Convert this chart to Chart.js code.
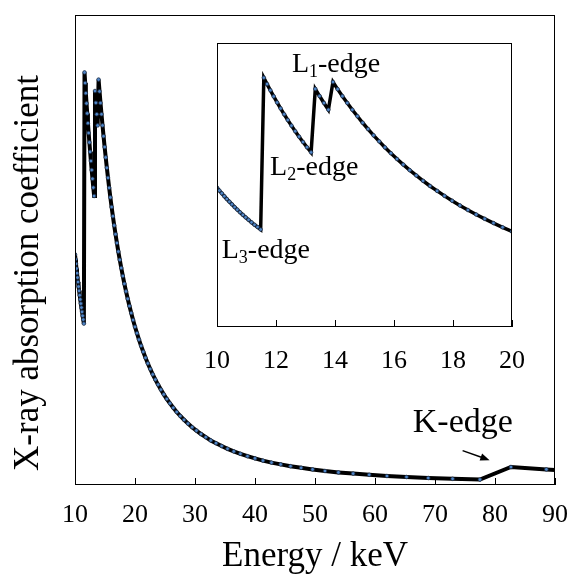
<!DOCTYPE html>
<html>
<head>
<meta charset="utf-8">
<script src="https://cdn.jsdelivr.net/npm/chart.js@4.4.1/dist/chart.umd.min.js"></script>
<style>
  html, body { margin: 0; padding: 0; background: #fff; }
  #wrap { position: relative; width: 569px; height: 574px; }
  #wrap canvas { position: absolute; left: 0; top: 0; }
</style>
</head>
<body>
<div id="wrap">
  <canvas id="main" width="569" height="574"></canvas>
  <canvas id="inset" width="569" height="574"></canvas>
</div>
<script>
// Pt X-ray absorption spectrum (arbitrary units), sampled on a 0.01 Å wavelength grid
const energyKeV = [
  9.999, 10.080, 10.163, 10.247, 10.332, 10.419, 10.507, 10.597, 10.688, 10.781,
  10.876, 10.972, 11.070, 11.170, 11.271, 11.375, 11.480,
  11.587, 11.697, 11.808, 11.922, 12.037, 12.155, 12.276, 12.398, 12.524, 12.651,
  12.782, 12.915, 13.051, 13.190,
  13.332, 13.477, 13.625, 13.776,
  13.931, 14.089, 14.251, 14.417, 14.586, 14.760, 14.938, 15.120, 15.307, 15.498,
  15.694, 15.895, 16.102, 16.314, 16.531, 16.755, 16.984, 17.220, 17.463, 17.712,
  17.969, 18.233, 18.505, 18.786, 19.075, 19.373, 19.680, 19.997, 20.325, 20.664,
  21.014, 21.377, 21.752, 22.140, 22.543, 22.960, 23.393, 23.843, 24.311, 24.797,
  25.303, 25.830, 26.380, 26.953, 27.552, 28.178, 28.834, 29.520, 30.240, 30.996,
  31.791, 32.627, 33.509, 34.440, 35.424, 36.466, 37.571, 38.745, 39.995, 41.328,
  42.753, 44.280, 45.920, 47.686, 49.594, 51.660, 53.906, 56.356, 59.040, 61.992,
  65.255, 68.880, 72.932, 77.490,
  82.656, 88.560, 95.372
];
const absorption = [
  115.3, 112.9, 110.6, 108.2, 105.9, 103.7, 101.5, 99.2, 97.1, 94.9,
  92.8, 90.7, 88.7, 86.6, 84.6, 82.7, 80.7,
  206.3, 201.0, 195.9, 190.8, 185.8, 180.9, 176.0, 171.3, 166.6, 162.0,
  157.5, 153.1, 148.7, 144.5,
  197.0, 191.1, 185.4, 179.8,
  202.7, 196.8, 191.0, 185.4, 179.8, 174.4, 169.0, 163.8, 158.6, 153.6,
  148.6, 143.8, 139.0, 134.4, 129.8, 125.4, 121.0, 116.7, 112.6, 108.5,
  104.5, 100.6, 96.8, 93.1, 89.5, 86.0, 82.5, 79.1, 75.9, 72.7,
  69.6, 66.6, 63.6, 60.8, 58.0, 55.3, 52.7, 50.2, 47.7, 45.3,
  43.0, 40.8, 38.6, 36.5, 34.5, 32.6, 30.7, 28.9, 27.2, 25.5,
  23.9, 22.3, 20.9, 19.5, 18.1, 16.8, 15.6, 14.4, 13.3, 12.2,
  11.2, 10.3, 9.4, 8.6, 7.8, 7.0, 6.3, 5.7, 5.1, 4.5,
  4.0, 3.5, 3.1, 2.7,
  9.0, 7.8, 6.4
];
const mainTicks = [10, 20, 30, 40, 50, 60, 70, 80, 90];
const insetTicks = [10, 12, 14, 16, 18, 20];

// Edge labels: subscript, anchor energy (keV) and absorption value at the text baseline
const lEdgeLabels = [
  { sub: '3', e: 10.16, mu: 57.5 },
  { sub: '2', e: 11.80, mu: 126.0 },
  { sub: '1', e: 12.54, mu: 211.0 }
];
const kEdgeLabel = { text: 'K-edge', e: 66.3, mu: 26.5 };
const kEdgeArrow = { from: [74.6, 17.2], to: [79.1, 12.4] };

const SERIF = "'Liberation Serif', 'Times New Roman', serif";
const points = energyKeV.map((e, i) => ({ x: e, y: absorption[i] }));

function seriesStyle(width) {
  return {
    data: points,
    borderColor: '#000',
    borderWidth: width,
    pointRadius: 1.8,
    pointBorderWidth: 0.8,
    pointBackgroundColor: '#4f86c8',
    pointBorderColor: '#1d2c44',
    fill: false,
    tension: 0
  };
}

// Box frame plus short inward ticks on the energy axis
const frameTicks = {
  id: 'frameTicks',
  afterDatasetsDraw(chart) {
    const { ctx, chartArea: a, scales: { x } } = chart;
    ctx.save();
    ctx.strokeStyle = '#000';
    ctx.lineWidth = 1;
    ctx.strokeRect(a.left + 0.5, a.top + 0.5, a.right - a.left - 1, a.bottom - a.top - 1);
    ctx.beginPath();
    x.ticks.forEach(t => {
      const px = Math.round(x.getPixelForValue(t.value)) + 0.5;
      ctx.moveTo(px, a.bottom);
      ctx.lineTo(px, a.bottom - 7);
    });
    ctx.stroke();
    ctx.restore();
  }
};

const whiteArea = {
  id: 'whiteArea',
  beforeDraw(chart) {
    const { ctx, chartArea: a } = chart;
    ctx.save();
    ctx.fillStyle = '#fff';
    ctx.fillRect(a.left, a.top, a.right - a.left, a.bottom - a.top);
    ctx.restore();
  }
};

// Rotated y-axis title
const yTitle = {
  id: 'yTitle',
  afterDraw(chart) {
    const { ctx, chartArea: a } = chart;
    ctx.save();
    ctx.translate(29, (a.top + a.bottom) / 2 + 23);
    ctx.rotate(-Math.PI / 2);
    ctx.font = '35px ' + SERIF;
    ctx.fillStyle = '#000';
    ctx.textAlign = 'center';
    ctx.textBaseline = 'middle';
    ctx.fillText('X-ray absorption coefficient', 0, 0);
    ctx.restore();
  }
};

const kEdge = {
  id: 'kEdge',
  afterDatasetsDraw(chart) {
    const { ctx, scales: { x, y } } = chart;
    ctx.save();
    ctx.fillStyle = '#000';
    ctx.strokeStyle = '#000';
    ctx.font = '34px ' + SERIF;
    ctx.textAlign = 'left';
    ctx.textBaseline = 'alphabetic';
    ctx.fillText(kEdgeLabel.text, x.getPixelForValue(kEdgeLabel.e), y.getPixelForValue(kEdgeLabel.mu));
    const x0 = x.getPixelForValue(kEdgeArrow.from[0]), y0 = y.getPixelForValue(kEdgeArrow.from[1]);
    const x1 = x.getPixelForValue(kEdgeArrow.to[0]), y1 = y.getPixelForValue(kEdgeArrow.to[1]);
    const ang = Math.atan2(y1 - y0, x1 - x0);
    const head = 10;
    ctx.lineWidth = 1.5;
    ctx.beginPath();
    ctx.moveTo(x0, y0);
    ctx.lineTo(x1 - Math.cos(ang) * head * 0.8, y1 - Math.sin(ang) * head * 0.8);
    ctx.stroke();
    ctx.beginPath();
    ctx.moveTo(x1, y1);
    ctx.lineTo(x1 - head * Math.cos(ang - 0.38), y1 - head * Math.sin(ang - 0.38));
    ctx.lineTo(x1 - head * Math.cos(ang + 0.38), y1 - head * Math.sin(ang + 0.38));
    ctx.closePath();
    ctx.fill();
    ctx.restore();
  }
};

const lEdges = {
  id: 'lEdges',
  afterDatasetsDraw(chart) {
    const { ctx, scales: { x, y } } = chart;
    const size = 28, subSize = 18;
    ctx.save();
    ctx.fillStyle = '#000';
    ctx.textAlign = 'left';
    ctx.textBaseline = 'alphabetic';
    lEdgeLabels.forEach(l => {
      let px = x.getPixelForValue(l.e);
      const py = y.getPixelForValue(l.mu);
      ctx.font = size + 'px ' + SERIF;
      ctx.fillText('L', px, py);
      px += ctx.measureText('L').width;
      ctx.font = subSize + 'px ' + SERIF;
      ctx.fillText(l.sub, px, py + 5);
      px += ctx.measureText(l.sub).width;
      ctx.font = size + 'px ' + SERIF;
      ctx.fillText('-edge', px, py);
    });
    ctx.restore();
  }
};

function xAxis(min, max, tickList, height, pad, title) {
  const axis = {
    type: 'linear',
    min: min,
    max: max,
    grid: { display: false, drawTicks: false },
    border: { display: false },
    afterBuildTicks(s) { s.ticks = tickList.map(v => ({ value: v })); },
    afterFit(s) {
      s.height = height;
      s.paddingLeft = 0;
      s.paddingRight = 0;
    },
    ticks: {
      color: '#000',
      font: { family: SERIF, size: 26 },
      padding: pad,
      maxRotation: 0,
      autoSkip: false
    }
  };
  if (title) {
    axis.title = {
      display: true,
      text: title,
      color: '#000',
      font: { family: SERIF, size: 35, lineHeight: 1 },
      padding: 0
    };
  }
  return axis;
}

new Chart(document.getElementById('main'), {
  type: 'line',
  data: { datasets: [seriesStyle(4)] },
  options: {
    responsive: false,
    animation: false,
    devicePixelRatio: 1,
    layout: { padding: { left: 75, top: 15, right: 14, bottom: 0 } },
    plugins: { legend: { display: false }, tooltip: { enabled: false } },
    scales: {
      x: xAxis(10, 90, mainTicks, 89, 15, 'Energy / keV'),
      y: { display: false, min: 0, max: 235 }
    }
  },
  plugins: [frameTicks, yTitle, kEdge]
});

new Chart(document.getElementById('inset'), {
  type: 'line',
  data: { datasets: [seriesStyle(3.5)] },
  options: {
    responsive: false,
    animation: false,
    devicePixelRatio: 1,
    events: [],
    layout: { padding: { left: 217, top: 43, right: 57, bottom: 187 } },
    plugins: { legend: { display: false }, tooltip: { enabled: false } },
    scales: {
      x: xAxis(10, 20, insetTicks, 60, 19, null),
      y: { display: false, min: 0, max: 235 }
    }
  },
  plugins: [whiteArea, frameTicks, lEdges]
});
</script>
</body>
</html>
